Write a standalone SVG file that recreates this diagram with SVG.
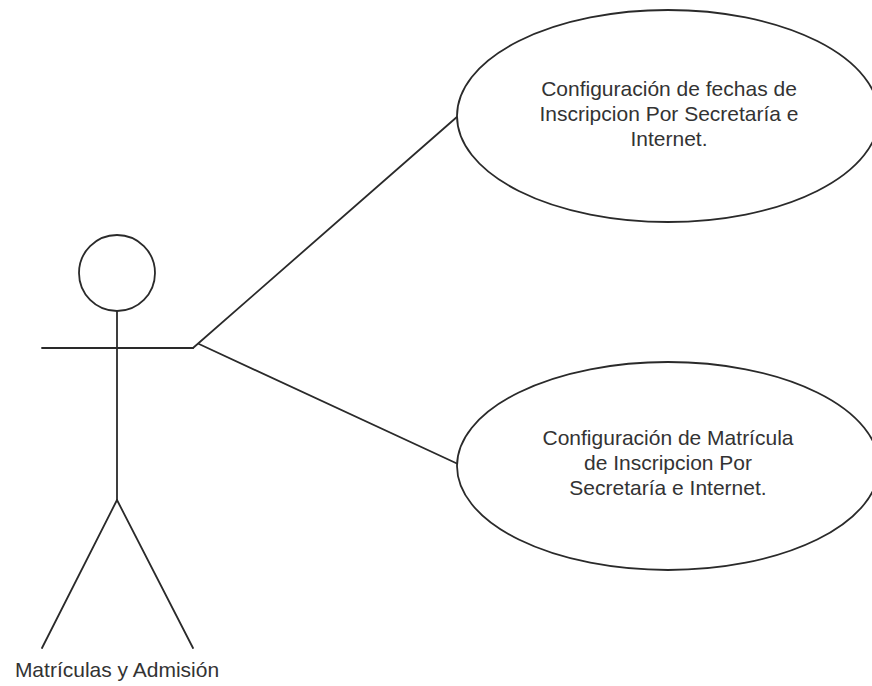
<svg xmlns="http://www.w3.org/2000/svg" width="872" height="686" viewBox="0 0 872 686">
<style>
.ln{stroke:#2a2a2a;stroke-width:1.8;fill:none;stroke-linecap:round}
.uc{fill:#ffffff;stroke:#2a2a2a;stroke-width:1.8}
.t{font-family:"Liberation Sans",Arial,sans-serif;font-size:21px;fill:#333333;text-anchor:middle}
</style>
<rect width="872" height="686" fill="#ffffff"/>
<g id="connectors">
<line class="ln" x1="193" y1="348" x2="458" y2="116"/>
<line class="ln" x1="199" y1="344" x2="458" y2="464"/>
</g>
<g id="actor">
<circle class="ln" cx="117" cy="273" r="38"/>
<line class="ln" x1="117" y1="311" x2="117" y2="500"/>
<line class="ln" x1="42" y1="348" x2="193" y2="348"/>
<line class="ln" x1="117" y1="500" x2="42" y2="648"/>
<line class="ln" x1="117" y1="500" x2="193" y2="648"/>
<text class="t" x="117" y="677" font-size="20.5">Matrículas y Admisión</text>
</g>
<g id="usecase1">
<ellipse class="uc" cx="668" cy="116" rx="211" ry="106"/>
<text class="t" x="669" y="96">Configuración de fechas de</text>
<text class="t" x="669" y="121">Inscripcion Por Secretaría e</text>
<text class="t" x="669" y="146">Internet.</text>
</g>
<g id="usecase2">
<ellipse class="uc" cx="668" cy="466" rx="211" ry="104"/>
<text class="t" x="668" y="445">Configuración de Matrícula</text>
<text class="t" x="668" y="470">de Inscripcion Por</text>
<text class="t" x="668" y="495">Secretaría e Internet.</text>
</g>
</svg>
